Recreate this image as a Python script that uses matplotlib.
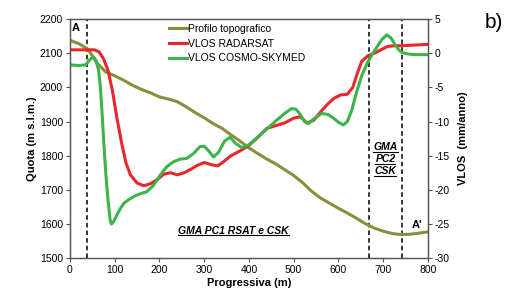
import matplotlib
matplotlib.use("Agg")
import matplotlib.pyplot as plt
from matplotlib.lines import Line2D

plt.rcParams['font.family'] = ['Liberation Sans', 'DejaVu Sans']
plt.rcParams['axes.unicode_minus'] = False

## data
topo_x = [0, 20, 40, 60, 80, 100, 120, 140, 160, 180, 200, 220, 240, 260, 280, 300,
          320, 340, 360, 380, 400, 420, 440, 460, 480, 500, 520, 540, 560, 580, 600,
          620, 640, 660, 680, 700, 720, 740, 760, 780, 800]
topo_q = [2138, 2128, 2112, 2072, 2045, 2034, 2021, 2006, 1994, 1984, 1972, 1966, 1958, 1943,
          1926, 1911, 1894, 1880, 1861, 1843, 1823, 1806, 1790, 1776, 1759, 1742, 1721, 1696,
          1676, 1661, 1646, 1632, 1617, 1601, 1588, 1579, 1572, 1569, 1570, 1573, 1577]

rsat_x = [0, 20, 40, 55, 65, 75, 85, 95, 105, 115, 125, 135, 150, 165, 180, 195, 210, 225,
          240, 255, 270, 285, 300, 315, 330, 345, 360, 380, 400, 420, 440, 460, 480, 500,
          515, 530, 545, 560, 575, 590, 605, 620, 632, 642, 652, 665, 680, 695, 710, 725,
          740, 770, 800]
rsat_v = [0.5, 0.5, 0.5, 0.5, 0.2, -0.8, -2.5, -5.5, -9.5, -13.0, -16.0, -17.8, -19.0, -19.4,
          -19.1, -18.5, -17.7, -17.5, -17.8, -17.5, -17.0, -16.4, -16.0, -16.3, -16.5, -15.8,
          -15.0, -14.3, -13.5, -12.3, -11.0, -10.6, -10.2, -9.5, -9.3, -10.2, -9.8, -8.6, -7.5,
          -6.6, -6.1, -6.0, -5.0, -3.0, -1.2, -0.4, 0.0, 0.5, 1.0, 1.1, 1.1, 1.2, 1.3]

csk_x = [0, 20, 35, 45, 52, 58, 64, 68, 72, 76, 80, 85, 90, 93, 98, 104, 112, 120, 130, 142,
         156, 171, 186, 200, 215, 231, 246, 261, 276, 290, 300, 310, 321, 332, 345, 358, 370,
         384, 400, 425, 445, 462, 480, 495, 505, 514, 524, 533, 545, 563, 578, 589, 600, 611,
         620, 630, 641, 652, 664, 675, 686, 697, 708, 718, 727, 735, 742, 755, 770, 800]
csk_v = [-1.7, -1.8, -1.7, -0.9, -0.5, -1.0, -2.5, -5.0, -9.0, -13.5, -17.5, -21.5, -24.5,
         -25.0, -24.6, -23.8, -22.8, -22.0, -21.5, -21.0, -20.6, -20.3, -19.4, -18.0, -16.7,
         -15.9, -15.5, -15.4, -14.7, -13.7, -13.6, -14.3, -15.2, -14.5, -12.9, -12.3, -13.2,
         -13.8, -13.4, -12.0, -10.8, -9.8, -8.8, -8.1, -8.2, -8.9, -10.0, -10.3, -9.6, -8.8,
         -9.0, -9.5, -10.1, -10.5, -10.0, -8.3, -5.6, -3.3, -1.5, -0.2, 0.9, 2.0, 2.7, 2.2,
         1.2, 0.5, 0.1, -0.1, -0.2, -0.2]

limits_x = [38, 668, 742]

col_topo = '#8c8c3e'
col_rsat = '#e8262b'
col_csk = '#3cb44b'

fig = plt.figure(figsize=(5.07, 2.94), dpi=100)
ax = fig.add_axes([0.138, 0.122, 0.706, 0.813])
ax2 = ax.twinx()

l1, = ax.plot(topo_x, topo_q, color=col_topo, lw=2.2, zorder=3)
l2, = ax2.plot(rsat_x, rsat_v, color=col_rsat, lw=2.2)
l3, = ax2.plot(csk_x, csk_v, color=col_csk, lw=2.2)
for xv in limits_x:
    ax.axvline(xv, color='black', lw=1.1, ls=(0, (3, 2)), zorder=2)

ax.set_xlim(0, 800)
ax.set_ylim(1500, 2200)
ax2.set_ylim(-30, 5)
ax.set_xticks(range(0, 801, 100))
ax.set_yticks(range(1500, 2201, 100))
ax2.set_yticks(range(-30, 6, 5))

for a in (ax, ax2):
    a.tick_params(labelsize=7.5, length=3, width=0.8, color='#555555', pad=2)
    for s in a.spines.values():
        s.set_color('#555555')
        s.set_linewidth(0.9)

ax.set_xlabel('Progressiva (m)', fontsize=8, fontweight='bold', labelpad=2)
ax.set_ylabel('Quota (m s.l.m.)', fontsize=8, fontweight='bold', labelpad=2)
ax2.set_ylabel('VLOS  (mm/anno)', fontsize=8, fontweight='bold', labelpad=6)

ax2.legend([l1, l2, l3], ['Profilo topografico', 'VLOS RADARSAT', 'VLOS COSMO-SKYMED'],
           loc='upper left', bbox_to_anchor=(0.255, 1.01), frameon=False, fontsize=7.5,
           handlelength=1.8, handletextpad=0.1, labelspacing=0.45, borderaxespad=0.3)

ax.text(12, 2175, 'A', fontsize=8, fontweight='bold', ha='center', va='center')
ax.text(775, 1598, "A'", fontsize=8, fontweight='bold', ha='center', va='center')

notes = []
notes.append(ax.text(365, 1580, 'GMA PC1 RSAT e CSK', fontsize=7.5, fontweight='bold',
                     style='italic', ha='center', va='center'))
for txt, q in [('GMA', 1825), ('PC2', 1790), ('CSK', 1755)]:
    notes.append(ax.text(705, q, txt, fontsize=7.5, fontweight='bold', style='italic',
                         ha='center', va='center'))

fig.text(0.975, 0.925, 'b)', fontsize=15, ha='center', va='center')

# underline the annotations
fig.canvas.draw()
r = fig.canvas.get_renderer()
for t in notes:
    bb = t.get_window_extent(renderer=r)
    fig.add_artist(Line2D([bb.x0, bb.x1], [bb.y0 + 0.5, bb.y0 + 0.5], color='black',
                          lw=0.8, transform=None))

fig.savefig('out.png', dpi=100)
